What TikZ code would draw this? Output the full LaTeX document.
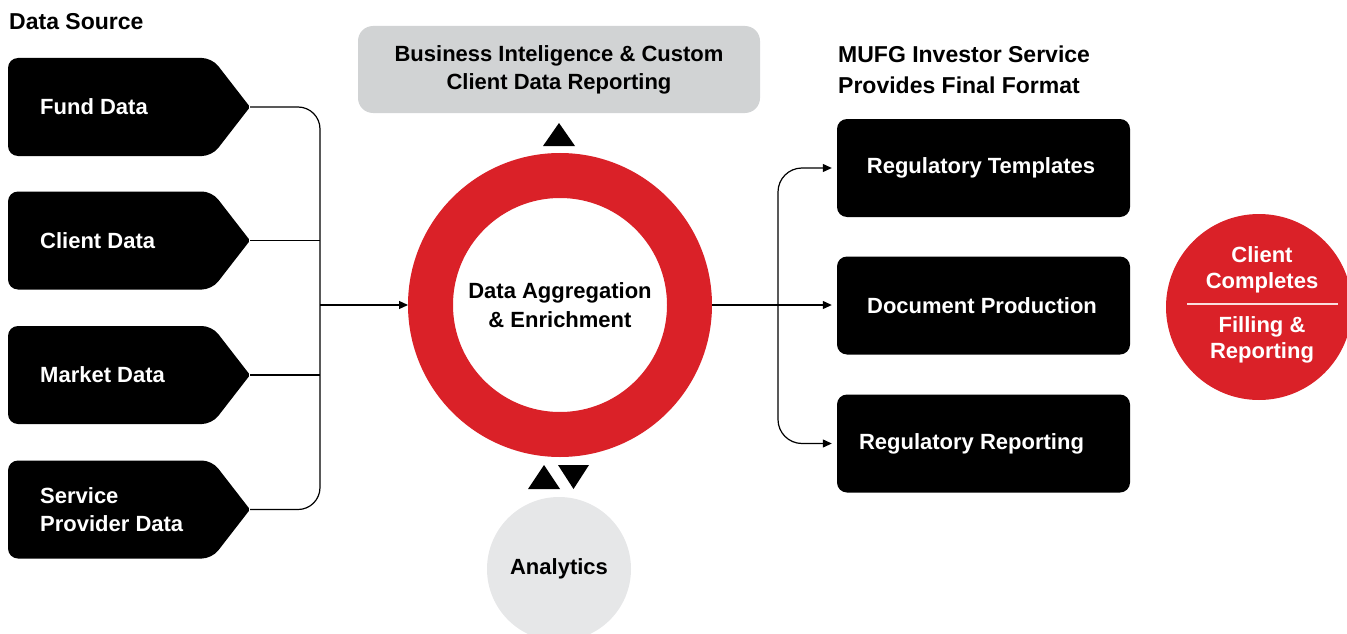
\documentclass[tikz,border=0pt]{standalone}
\usepackage{fontspec}
\setmainfont{Liberation Sans}
\usetikzlibrary{arrows.meta}
\definecolor{mred}{HTML}{DA2128}
\definecolor{boxgray}{HTML}{D1D3D4}
\definecolor{angray}{HTML}{E6E7E8}
\begin{document}
\begin{tikzpicture}[x=1pt,y=-1pt,
  lbl/.style={font=\bfseries\fontsize{22}{28}\selectfont, align=left, inner sep=0pt},
  head/.style={font=\bfseries\fontsize{23}{29}\selectfont, inner sep=0pt, anchor=base west},
  conn/.style={line width=1.2pt, black},
  arr/.style={conn, -{Triangle[length=9pt,width=8pt]}},
  rbox/.style={rectangle, rounded corners=10pt, fill=black, minimum width=293pt, minimum height=98pt, inner sep=0pt}]
\useasboundingbox (0,0) rectangle (1347,634);

% headings
\node[head] (ds) at (9,30) {Data Source};
\node[head] (mufg1) at (838,63) {MUFG Investor Service};
\node[head] (mufg2) at (838,93) {Provides Final Format};

% left source shapes
\foreach \c/\n in {107/fund,240.5/client,375/market,509.5/svc} {
  \fill[black] (8,\c) [rounded corners=10pt] -- (8,\c-49) -- (212,\c-49) [rounded corners=2pt] -- (250,\c) [rounded corners=10pt] -- (212,\c+49) -- (8,\c+49) -- cycle;
  \coordinate (\n tip) at (250,\c);
}
\node[lbl, text=white, anchor=west] (fund) at (40,107) {Fund Data};
\node[lbl, text=white, anchor=west] (client) at (40,240.5) {Client Data};
\node[lbl, text=white, anchor=west] (market) at (40,375) {Market Data};
\node[lbl, text=white, anchor=west] (svc) at (40,509.5) {Service\\Provider Data};

% gray top box
\node[lbl, align=center, fill=boxgray, rounded corners=15pt, minimum width=402pt, minimum height=87pt] (bi) at (559,69.5) {Business Inteligence \& Custom\\Client Data Reporting};

% ring
\node[circle, draw=mred, line width=45pt, fill=white, minimum size=259pt, inner sep=0pt,
  font=\bfseries\fontsize{22}{29}\selectfont, align=center] (ring) at (560,305) {Data Aggregation\\\& Enrichment};

% triangles
\fill[black] (543,146) -- (575,146) -- (559,123) -- cycle;
\fill[black] (528,489) -- (560,489) -- (544,465) -- cycle;
\fill[black] (558,465) -- (589,465) -- (573.5,489) -- cycle;

% analytics
\node[lbl, circle, fill=angray, minimum size=144pt] (an) at (559,569) {Analytics};

% left connectors
\coordinate (lbusTop) at (320,107);
\coordinate (lbusMid) at (320,305);
\draw[conn, rounded corners=22pt] (fundtip) -| (320,509.5) -- (svctip);
\draw[conn] (clienttip) -- (clienttip -| lbusTop);
\draw[conn] (markettip) -- (markettip -| lbusTop);
\draw[arr] (lbusMid) -- (ring.west);

% right boxes
\node[rbox] (tmpl) at (983.5,168) {};
\node[rbox] (doc) at (983.5,305.5) {};
\node[rbox] (rep) at (983.5,443.5) {};
\node[lbl, text=white] (tmplt) at (981,168) {Regulatory Templates};
\node[lbl, text=white] (doct) at (982,305.5) {Document Production};
\node[lbl, text=white] (rept) at (971.5,443.5) {Regulatory Reporting};

% right connectors
\coordinate (rbus) at (778,305);
\draw[arr, shorten >=5pt] (ring.east) -- (rbus -| doc.west);
\draw[arr, rounded corners=24pt, shorten >=5pt] (rbus) |- (tmpl.west);
\draw[arr, rounded corners=24pt, shorten >=5pt] (rbus) |- (rep.west);

% client completes circle
\node[circle, fill=mred, minimum size=186pt, inner sep=0pt] (cc) at (1259,307) {};
\node[font=\bfseries\fontsize{22}{26}\selectfont, inner sep=0pt, align=center, text=white] (cc1) at (1262,270) {Client\\Completes};
\node[font=\bfseries\fontsize{22}{26}\selectfont, inner sep=0pt, align=center, text=white] (cc2) at (1262,340) {Filling \&\\Reporting};
\draw[white!85!mred, line width=1.2pt] (1187,304) -- (1338,304);
\end{tikzpicture}
\end{document}
